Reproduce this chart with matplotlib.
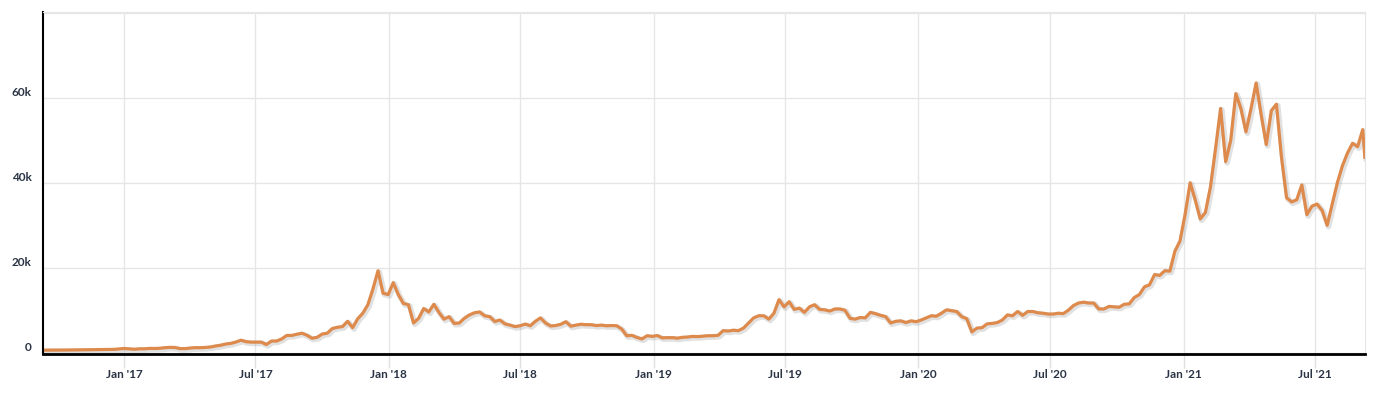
import pandas as pd
import numpy as np
import matplotlib.pyplot as plt
import matplotlib.patheffects as pe
from matplotlib.ticker import FuncFormatter

# weekly values (Sundays)
v2016 = [607, 610, 603, 613, 617, 640, 657, 700, 712, 703, 730, 730, 765, 770, 790, 890]
v2017 = [1000, 910, 820, 920, 920, 1020, 1000, 1050, 1180, 1270, 1230, 970, 970,
         1100, 1200, 1180, 1250, 1350, 1590, 1770, 2050, 2200, 2520, 2950, 2600, 2500,
         2500, 2500, 1930, 2750, 2750, 3230, 4060, 4070, 4350, 4600, 4120, 3400, 3630,
         4400, 4600, 5700, 6000, 6150, 7400, 5900, 8000, 9300, 11300, 15000, 19300, 14000, 13700]
v2018 = [16500, 13700, 11600, 11300, 7000, 8100, 10400, 9600, 11400, 9500, 7900, 8500,
         6900, 7000, 8100, 8900, 9400, 9600, 8700, 8500, 7350, 7700, 6800, 6500, 6150,
         6350, 6750, 6350, 7400, 8200, 7000, 6300, 6400, 6700, 7300, 6250, 6500, 6700, 6600,
         6600, 6400, 6500, 6350, 6400, 6350, 5600, 4000, 4100, 3600, 3250, 4000, 3850]
v2019 = [4050, 3500, 3550, 3550, 3430, 3630, 3700, 3850, 3800, 3900, 4000, 4000, 4100,
         5200, 5100, 5300, 5200, 5800, 7000, 8200, 8700, 8700, 7900, 9300, 12500, 10800,
         12000, 10200, 10500, 9500, 10800, 11300, 10200, 10100, 9800, 10300, 10300, 10000, 8100,
         7900, 8300, 8200, 9500, 9200, 8800, 8500, 7000, 7400, 7500, 7100, 7500, 7300]
v2020 = [7700, 8200, 8700, 8600, 9300, 10100, 9900, 9700, 8500, 8000, 4900, 5800, 5900,
         6800, 6900, 7100, 7700, 8900, 8700, 9700, 8800, 9700, 9700, 9400, 9300, 9100,
         9100, 9300, 9200, 10000, 11100, 11700, 11900, 11700, 11700, 10300, 10300, 10900, 10800,
         10700, 11400, 11500, 13000, 13700, 15500, 16000, 18400, 18200, 19300, 19200, 23900, 26300]
v2021 = [32500, 40000, 36000, 31500, 33000, 39000, 48000, 57500, 45000, 50000, 61000, 57500, 52000,
         57500, 63500, 56000, 49000, 57000, 58500, 46000, 36500, 35500, 36000, 39500, 32500, 34500,
         35000, 33500, 30000, 35000, 40000, 44000, 47000, 49300, 48500, 52500]
last_date = '2021-09-08'
last_value = 46000

values = v2016 + v2017 + v2018 + v2019 + v2020 + v2021
dates = list(pd.date_range('2016-09-11', periods=len(values), freq='7D'))
dates.append(pd.Timestamp(last_date))
values.append(last_value)

tick_dates = pd.to_datetime(['2017-01-01', '2017-07-01', '2018-01-01', '2018-07-01',
                             '2019-01-01', '2019-07-01', '2020-01-01', '2020-07-01',
                             '2021-01-01', '2021-07-01'])
tick_labels = ["Jan '17", "Jul '17", "Jan '18", "Jul '18", "Jan '19", "Jul '19",
               "Jan '20", "Jul '20", "Jan '21", "Jul '21"]

plt.rcParams['font.family'] = ['Lato', 'DejaVu Sans']

fig = plt.figure(figsize=(13.83, 3.94), dpi=100)
ax = fig.add_axes([0.0311, 0.1015, 0.9558, 0.868])

ax.plot(dates, values, color='#dd8a4c', lw=2.3, solid_joinstyle='round',
        path_effects=[pe.SimpleLineShadow(offset=(1, -1), shadow_color='#888888', alpha=0.25, linewidth=4),
                      pe.Normal()])

ax.set_xlim(pd.Timestamp('2016-09-11'), pd.Timestamp(last_date))
ax.set_ylim(-300, 80200)

ax.set_xticks(tick_dates)
ax.set_xticklabels(tick_labels)
ax.set_yticks([0, 20000, 40000, 60000, 80000])
ax.yaxis.set_major_formatter(FuncFormatter(lambda v, p: '' if v >= 80000 else ('0' if v == 0 else f'{int(v/1000)}k')))

ax.grid(True, color='#e6e6e6', lw=1)
ax.set_axisbelow(True)

ax.tick_params(axis='x', length=10, width=1, color='#e0e0e0', pad=1,
               labelsize=8.5, labelcolor='#2a3445')
ax.tick_params(axis='y', length=0, pad=8, labelsize=8.5, labelcolor='#2a3445')
for lab in ax.get_xticklabels() + ax.get_yticklabels():
    lab.set_fontweight('bold')
for lab in ax.get_yticklabels():
    lab.set_va('bottom')

ax.spines['left'].set_color('black')
ax.spines['left'].set_linewidth(1.5)
ax.spines['bottom'].set_color('black')
ax.spines['bottom'].set_linewidth(2)
ax.spines['top'].set_color('#e6e6e6')
ax.spines['right'].set_color('#e6e6e6')

fig.savefig('out.png', dpi=100)
